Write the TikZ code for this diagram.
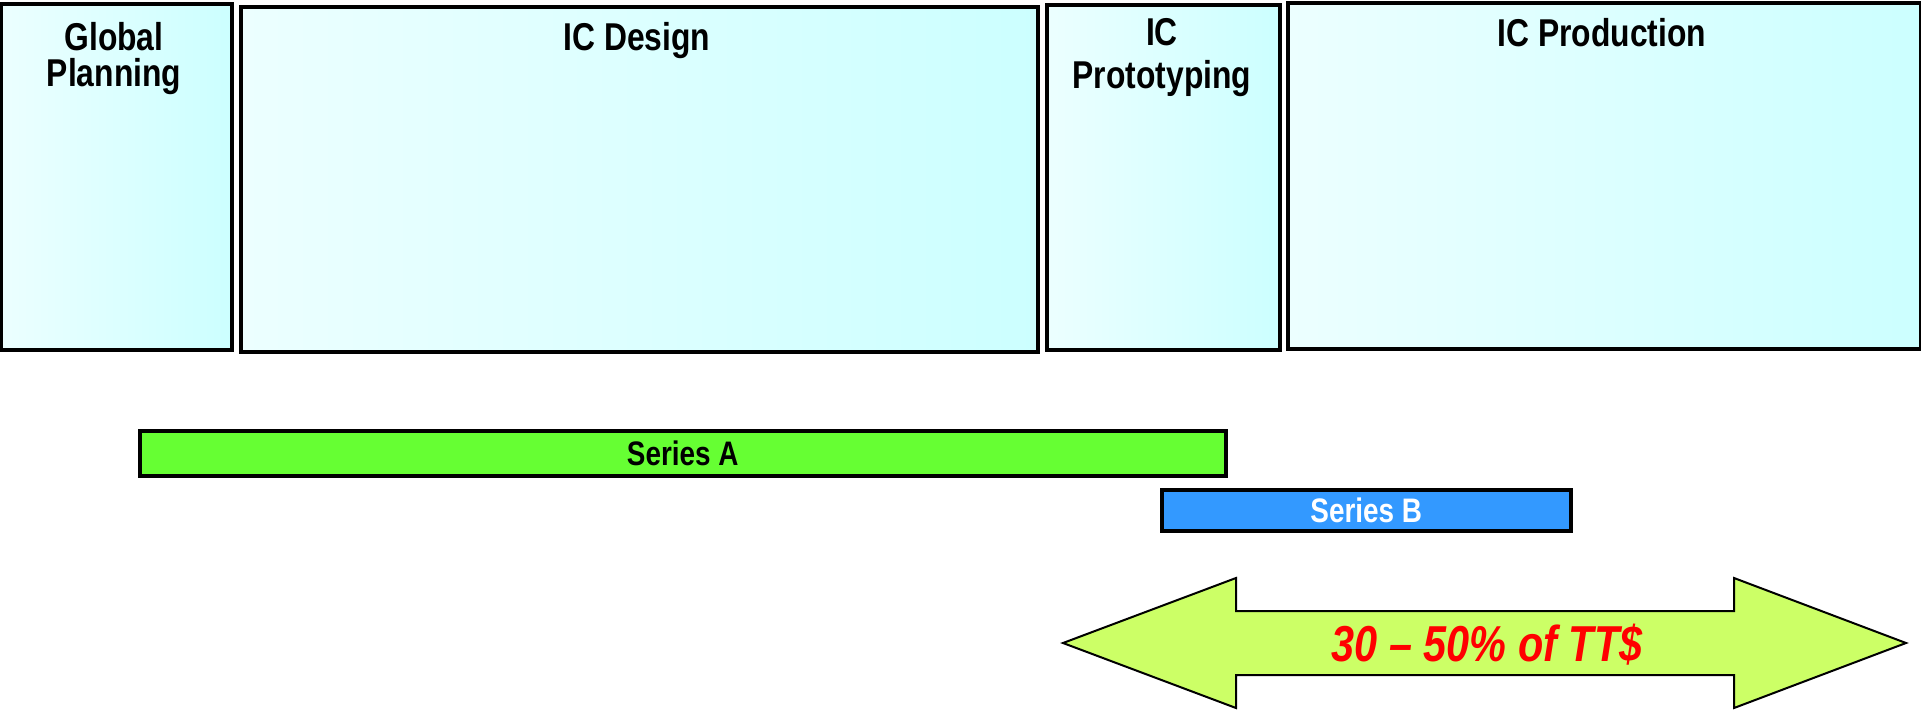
\documentclass[tikz,border=0pt]{standalone}
\usepackage{fontspec}
\setmainfont{Liberation Sans}[FakeStretch=0.82]
\definecolor{phaseL}{RGB}{236,255,255}
\definecolor{phaseR}{RGB}{204,255,255}
\definecolor{seriesA}{RGB}{102,255,51}
\definecolor{seriesB}{RGB}{51,153,255}
\definecolor{spanfill}{RGB}{204,255,102}
\definecolor{spantext}{RGB}{255,0,0}
\begin{document}
\begin{tikzpicture}[x=1pt,y=-1pt,
  phase/.style={draw=black, line width=3.5pt, left color=phaseL, right color=phaseR,
    anchor=north west, inner sep=0pt},
  title/.style={anchor=north, inner sep=0pt, align=center,
    font=\fontsize{38.8}{36}\selectfont\bfseries},
  bar/.style={draw=black, line width=3.5pt, inner sep=0pt, anchor=north west,
    font=\fontsize{34}{36}\selectfont\bfseries},
  span/.style={draw=black, line width=2pt, line join=miter, fill=spanfill},
]
\useasboundingbox (0,0) rectangle (1921,712);

% project phases
\node[phase, minimum width=231pt, minimum height=346pt] (gp) at (-1,2) {};
\node[phase, minimum width=797pt, minimum height=345pt] (icd) at (239,5) {};
\node[phase, minimum width=233pt, minimum height=345pt] (icp) at (1045,3) {};
\node[phase, minimum width=633pt, minimum height=346pt] (icprod) at (1286,1) {};

\node[title] (gpT) at (114,22) {Global\\Planning};
\node[title] (icdT) at (637,22) {IC Design};
\node[title, font=\fontsize{38.8}{42.5}\selectfont\bfseries] (icpT) at (1162,18.5) {IC\\Prototyping};
\node[title] (icprodT) at (1602,18.5) {IC Production};

% funding rounds
\node[bar, fill=seriesA, minimum width=1086pt, minimum height=45pt] (sa) at (138,429) {Series A};
\node[bar, fill=seriesB, text=white, minimum width=409pt, minimum height=41pt] (sb) at (1160,488) {Series B};

% share of total spend
\path[span] (1063,643) -- (1236,578) -- (1236,611) -- (1734,611) -- (1734,578)
  -- (1906,643) -- (1734,708) -- (1734,675) -- (1236,675) -- (1236,708) -- cycle;
\node[anchor=base, inner sep=0pt, text=spantext,
  font=\fontsize{50.5}{52}\selectfont\bfseries\itshape] (share) at (1487,661.5) {30 – 50\% of TT\$};
\end{tikzpicture}
\end{document}
